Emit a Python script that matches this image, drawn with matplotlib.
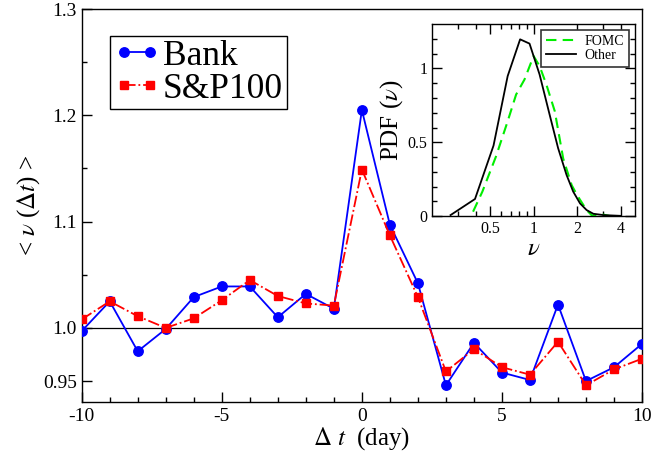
import matplotlib
matplotlib.use("Agg")
import matplotlib.pyplot as plt

plt.rcParams['font.family'] = ['Liberation Serif', 'DejaVu Serif']
plt.rcParams['mathtext.fontset'] = 'stix'

# Main data
dt = [-10, -9, -8, -7, -6, -5, -4, -3, -2, -1, 0, 1, 2, 3, 4, 5, 6, 7, 8, 9, 10]
bank = [0.997, 1.025, 0.978, 0.999, 1.029, 1.039, 1.039, 1.010, 1.032, 1.018,
        1.205, 1.097, 1.042, 0.946, 0.986, 0.958, 0.951, 1.022, 0.950, 0.963, 0.985]
sp100 = [1.008, 1.025, 1.011, 1.000, 1.009, 1.026, 1.045, 1.030, 1.023, 1.021,
         1.149, 1.087, 1.029, 0.959, 0.980, 0.963, 0.956, 0.987, 0.946, 0.961, 0.971]

# Inset data
fomc_v = [0.383, 0.444, 0.551, 0.663, 0.758, 0.866, 1.0, 1.10, 1.225, 1.40, 1.60,
          1.83, 2.0, 2.32, 2.52, 3.03, 3.37]
fomc_pdf = [0.03, 0.166, 0.404, 0.642, 0.823, 0.925, 1.084, 1.016, 0.891, 0.71, 0.39,
            0.21, 0.14, 0.041, 0.005, 0.01, 0.0]
other_v = [0.268, 0.395, 0.53, 0.663, 0.808, 0.938, 1.10, 1.29, 1.476, 1.687, 1.875,
           2.09, 2.32, 2.58, 3.03, 3.96]
other_pdf = [0.007, 0.116, 0.478, 0.948, 1.197, 1.168, 0.959, 0.687, 0.46, 0.279, 0.166,
             0.086, 0.041, 0.016, 0.007, 0.002]

fig = plt.figure(figsize=(6.72, 4.55), dpi=100)
ax = fig.add_axes([0.1216, 0.1158, 0.8338, 0.8644])

ax.axhline(1.0, color='black', lw=0.9, zorder=1)
ax.plot(dt, bank, color='#0000ff', lw=1.3, marker='o', ms=6.8, label='Bank', zorder=3)
ax.plot(dt, sp100, color='#ff0000', lw=1.3, ls='-.', marker='s', ms=5.3,
        label='S&P100', zorder=4)

ax.set_xlim(-10, 10)
ax.set_ylim(0.93, 1.3)
ax.set_xticks([-10, -5, 0, 5, 10])
ax.set_xticklabels(['-10', '-5', '0', '5', '10'])
ax.set_xticks(range(-10, 11), minor=True)
ax.set_yticks([0.95, 1.0, 1.1, 1.2, 1.3])
ax.set_yticklabels(['0.95', '1.0', '1.1', '1.2', '1.3'])
ax.set_yticks([1.05, 1.15, 1.25], minor=True)
ax.tick_params(which='both', direction='in', top=False, right=False, labelsize=14)
ax.tick_params(which='major', length=7.2, width=1.0)
ax.tick_params(which='minor', length=3.6, width=1.0)
ax.tick_params(axis='x', pad=4)
for s in ax.spines.values():
    s.set_linewidth(1.0)

ax.set_xlabel(r'$\Delta\ t$  (day)', fontsize=18, labelpad=0)
ax.set_ylabel(r'< $\nu$ ($\Delta t$) >', fontsize=18, labelpad=1)

leg = ax.legend(loc='upper left', bbox_to_anchor=(0.05, 0.931), borderaxespad=0,
                fontsize=25.5, frameon=True, fancybox=False, edgecolor='black',
                framealpha=1, handlelength=1.35, handletextpad=0.05, borderpad=0.1,
                labelspacing=0.0, numpoints=2, markerscale=1.0)
leg.get_frame().set_linewidth(1.0)

# Inset
ins = fig.add_axes([0.643, 0.525, 0.302, 0.422])
ins.plot(fomc_v, fomc_pdf, color='#00ee00', lw=1.5, ls=(0, (5, 3)), label='FOMC')
ins.plot(other_v, other_pdf, color='black', lw=1.3, label='Other')
ins.set_xscale('log')
ins.set_xlim(0.2, 5)
ins.set_ylim(0, 1.3)
ins.set_xticks([0.5, 1, 2, 4])
ins.set_xticklabels(['0.5', '1', '2', '4'])
ins.set_xticks([0.3, 0.4, 0.6, 0.7, 0.8, 0.9, 3], minor=True)
ins.set_xticklabels([], minor=True)
ins.set_yticks([0, 0.5, 1])
ins.set_yticklabels(['0', '0.5', '1'])
ins.set_yticks([0.1, 0.2, 0.3, 0.4, 0.6, 0.7, 0.8, 0.9, 1.1, 1.2], minor=True)
ins.tick_params(which='both', direction='in', top=True, right=True, labelsize=11.5)
ins.tick_params(which='major', length=7, width=1.0)
ins.tick_params(which='minor', length=3.6, width=1.0)
for s in ins.spines.values():
    s.set_linewidth(1.0)
ins.set_xlabel(r'$\nu$', fontsize=18, labelpad=1)
ins.set_ylabel(r'PDF ($\nu$)', fontsize=18, labelpad=2)
ileg = ins.legend(loc='upper right', bbox_to_anchor=(0.97, 0.97), borderaxespad=0,
                  fontsize=10, frameon=True, fancybox=False, edgecolor='#333333',
                  framealpha=1, handlelength=2.2, handletextpad=0.6, borderpad=0.35,
                  labelspacing=0.1)
ileg.get_frame().set_linewidth(1.2)

fig.savefig('out.png', dpi=100)
